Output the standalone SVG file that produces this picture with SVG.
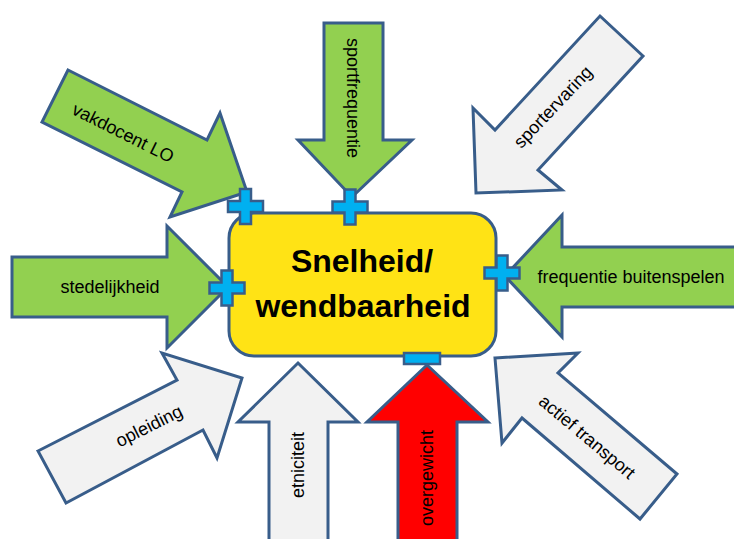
<svg xmlns="http://www.w3.org/2000/svg" xmlns:xlink="http://www.w3.org/1999/xlink" width="734" height="539" viewBox="0 0 734 539">
<style>
.arr{stroke:#385D8A;stroke-width:3;stroke-linejoin:miter}
.green{fill:#92D050}
.gray{fill:#F2F2F2}
.red{fill:#FF0000}
.lbl{font-family:"Liberation Sans",Arial,sans-serif;font-size:18px;fill:#000;text-anchor:middle}
.title{font-family:"Liberation Sans",Arial,sans-serif;font-size:32px;font-weight:bold;fill:#000;text-anchor:middle}
.sign{fill:#00B0F0;stroke:#385D8A;stroke-width:2.5}
</style>
<defs>
<path id="plus" d="M-5.5,-17.5 H5.5 V-5.5 H17.5 V5.5 H5.5 V17.5 H-5.5 V5.5 H-17.5 V-5.5 H-5.5 Z" class="sign"/>
</defs>
<g id="connectors">
<g id="arrow-vakdocent">
<polygon class="arr green" points="68,70 207,140 220,113 247,192 170,217 182,192 42,122"/>
<text class="lbl" transform="translate(123,133) rotate(26.6)" y="6">vakdocent LO</text>
</g>
<g id="arrow-sportfrequentie">
<polygon class="arr green" points="324,23 383,23 383,140 412,140 352,197 298,140 324,140"/>
<text class="lbl" transform="translate(352,98) rotate(90)" y="5">sportfrequentie</text>
</g>
<g id="arrow-sportervaring">
<polygon class="arr gray" points="600,16 643,56 538,170 562,190 476,193 473,108 495,130"/>
<text class="lbl" transform="translate(553,107) rotate(-46.5)" y="6">sportervaring</text>
</g>
<g id="arrow-stedelijkheid">
<polygon class="arr green" points="12,257 167,257 167,226 228,287 167,348 167,317 12,317"/>
<text class="lbl" x="110" y="293">stedelijkheid</text>
</g>
<g id="arrow-buitenspelen">
<polygon class="arr green" points="505,276 562,215 562,247 740,247 740,307 562,307 562,337"/>
<text class="lbl" x="631" y="283">frequentie buitenspelen</text>
</g>
<g id="arrow-opleiding">
<polygon class="arr gray" points="38,451 177,380 162,353 242,378 217,458 203,430 66,503"/>
<text class="lbl" transform="translate(149,426) rotate(-26.6)" y="6">opleiding</text>
</g>
<g id="arrow-etniciteit">
<polygon class="arr gray" points="298,363 358,422 328,422 328,545 269,545 269,422 238,422"/>
<text class="lbl" transform="translate(299,465) rotate(-90)" y="5">etniciteit</text>
</g>
<g id="arrow-overgewicht">
<polygon class="arr red" points="427,365 488,422 457,422 457,545 398,545 398,422 367,422"/>
<text class="lbl" transform="translate(428,478) rotate(-90)" y="5">overgewicht</text>
</g>
<g id="arrow-actief-transport">
<polygon class="arr gray" points="495,358 578,353 558,373 677,474 640,519 522,418 502,443"/>
<text class="lbl" transform="translate(587,437) rotate(40)" y="6">actief transport</text>
</g>
</g>
<g id="center">
<rect x="229" y="213" width="267" height="143" rx="25" ry="25" fill="#FFE315" stroke="#385D8A" stroke-width="3"/>
<text class="title" x="362" y="272">Snelheid/</text>
<text class="title" x="363" y="317">wendbaarheid</text>
</g>
<g id="signs">
<use xlink:href="#plus" href="#plus" x="245.5" y="206.5"/>
<use xlink:href="#plus" href="#plus" x="350" y="207"/>
<use xlink:href="#plus" href="#plus" x="227" y="288"/>
<use xlink:href="#plus" href="#plus" x="502" y="273"/>
<rect class="sign" x="404" y="353" width="36" height="11"/>
</g>
</svg>
